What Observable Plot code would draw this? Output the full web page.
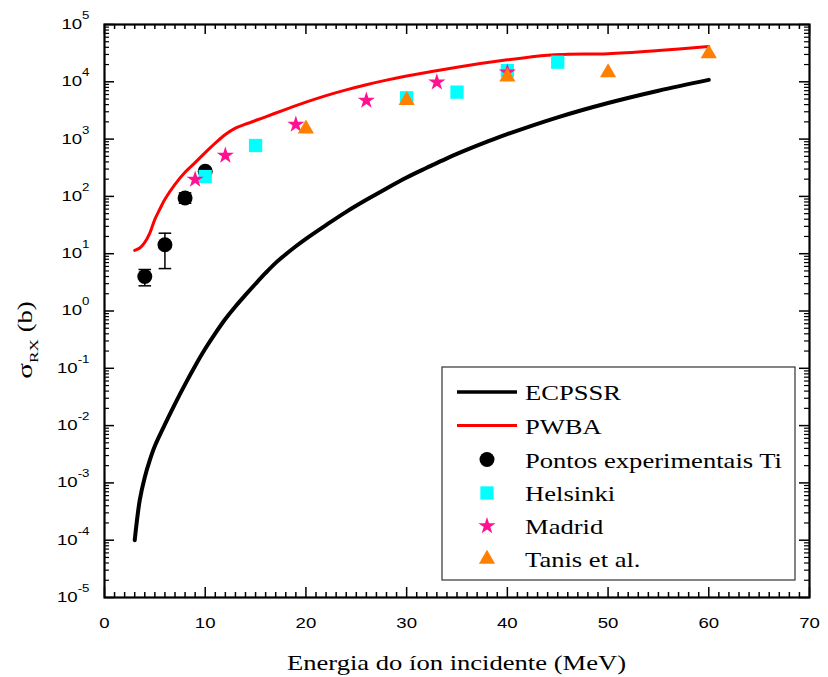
<!DOCTYPE html>
<html>
<head>
<meta charset="utf-8">
<script src="https://cdn.jsdelivr.net/npm/d3@7"></script>
<script src="https://cdn.jsdelivr.net/npm/@observablehq/plot@0.6"></script>
<style>
  html, body { margin: 0; padding: 0; background: #fff; }
  #chart { width: 828px; height: 677px; }
</style>
</head>
<body>
<div id="chart"></div>
<script>
// Ti K X-ray production cross sections (barn) versus incident ion energy (MeV)

// ECPSSR theory curve
const energyECPSSR = [3, 3.5, 4, 4.5, 5, 6, 7, 8, 9, 10, 11, 12, 13, 14, 15, 16, 17, 18, 19, 20, 22, 24, 26, 28, 30, 32, 34, 36, 38, 40, 45, 50, 55, 60];
const sigmaECPSSR = [1.0e-4, 5.0e-4, 1.26e-3, 2.5e-3, 4.4e-3, 0.0105, 0.024, 0.0525, 0.11, 0.219, 0.407, 0.724, 1.20, 1.91, 2.99, 4.62, 6.92, 9.77, 13.5, 18.2, 31.6, 53.7, 87.1, 138, 214, 316, 462, 653, 902, 1220, 2400, 4270, 7000, 10800];

// PWBA theory curve
const energyPWBA = [3, 3.5, 4, 4.5, 5, 5.5, 6, 7, 8, 9, 10, 11, 12, 13, 14, 16, 18, 20, 22, 24, 26, 28, 30, 35, 40, 44, 46, 50, 55, 60];
const sigmaPWBA = [11.4, 12.6, 15.8, 22.9, 39.8, 60.3, 89.1, 162, 263, 389, 582, 851, 1200, 1550, 1820, 2450, 3310, 4420, 5750, 7240, 8910, 10700, 12600, 18000, 24200, 29200, 30200, 30900, 35100, 41300];

// This work (Ti), with error bars
const energyTi = [4, 6, 8, 10];
const sigmaTi = [4.0, 14.3, 94, 275];
const sigmaTiLow = [2.75, 5.5, 76, 245];
const sigmaTiHigh = [5.3, 22.8, 115, 305];

// Helsinki
const energyHelsinki = [10, 15, 30, 35, 40, 45];
const sigmaHelsinki = [222, 773, 5250, 6600, 15700, 22000];

// Madrid
const energyMadrid = [9, 12, 19, 26, 33, 40];
const sigmaMadrid = [197, 517, 1800, 4720, 9850, 14700];

// Tanis et al.
const energyTanis = [20, 30, 40, 50, 60];
const sigmaTanis = [1510, 4750, 12200, 14500, 31000];

// Axis ticks
const xTicks = [0, 10, 20, 30, 40, 50, 60, 70];
const xMinorTicks = d3.range(0, 71).filter(v => v % 10 !== 0);
const yExponents = [-5, -4, -3, -2, -1, 0, 1, 2, 3, 4, 5];
const yTicks = yExponents.map(e => Math.pow(10, e));
const yMinorTicks = yExponents.slice(0, -1).flatMap(e => d3.range(2, 10).map(m => m * Math.pow(10, e)));

const seriesNames = ["ECPSSR", "PWBA", "Pontos experimentais Ti", "Helsinki", "Madrid", "Tanis et al."];

const rows = (xs, ys) => xs.map((x, i) => ({x, y: ys[i]}));
const ecpssr = rows(energyECPSSR, sigmaECPSSR);
const pwba = rows(energyPWBA, sigmaPWBA);
const ti = energyTi.map((x, i) => ({x, y: sigmaTi[i], lo: sigmaTiLow[i], hi: sigmaTiHigh[i]}));
const helsinki = rows(energyHelsinki, sigmaHelsinki);
const madrid = rows(energyMadrid, sigmaMadrid);
const tanis = rows(energyTanis, sigmaTanis);

const W = 828, H = 677;
const mL = 104, mR = 19, mT = 24, mB = 80;
const frameW = W - mL - mR, frameH = H - mT - mB;
const majorLen = 10, minorLen = 5;

const colors = {ecpssr: "#000000", pwba: "#ff0000", ti: "#000000", helsinki: "#00ffff", madrid: "#ff1190", tanis: "#ff8000"};
const sizes = {circle: 7.5, square: 7.5, star: 5.4, triangle: 6.0};

// horizontal cap for error bars
const capSymbol = {draw(ctx) { ctx.moveTo(-6.3, 0); ctx.lineTo(6.3, 0); }};

const plot = Plot.plot({
  width: W,
  height: H,
  marginLeft: mL,
  marginRight: mR,
  marginTop: mT,
  marginBottom: mB,
  style: {background: "white", fontFamily: "'Liberation Sans', Arial, sans-serif", fontSize: "14px", color: "black", overflow: "visible"},
  x: {domain: [0, 70], label: null},
  y: {type: "log", domain: [1e-5, 1e5], label: null},
  marks: [
    // inward ticks on all four sides
    Plot.tickX(xTicks, {x: d => d, insetTop: frameH - majorLen, stroke: "black", strokeWidth: 1.5}),
    Plot.tickX(xTicks, {x: d => d, insetBottom: frameH - majorLen, stroke: "black", strokeWidth: 1.5}),
    Plot.tickX(xMinorTicks, {x: d => d, insetTop: frameH - minorLen, stroke: "black", strokeWidth: 1.5}),
    Plot.tickX(xMinorTicks, {x: d => d, insetBottom: frameH - minorLen, stroke: "black", strokeWidth: 1.5}),
    Plot.tickY(yTicks, {y: d => d, insetRight: frameW - majorLen, stroke: "black", strokeWidth: 1.5}),
    Plot.tickY(yTicks, {y: d => d, insetLeft: frameW - majorLen, stroke: "black", strokeWidth: 1.5}),
    Plot.tickY(yMinorTicks, {y: d => d, insetRight: frameW - minorLen, stroke: "black", strokeWidth: 1.2}),
    Plot.tickY(yMinorTicks, {y: d => d, insetLeft: frameW - minorLen, stroke: "black", strokeWidth: 1.2}),
    Plot.frame({stroke: "black", strokeWidth: 2.2}),
    Plot.axisX({ticks: xTicks, tickSize: 0, tickPadding: 21, tickFormat: d => String(d), label: null}),
    Plot.axisY({ticks: yTicks, tickSize: 0, tickPadding: 15, tickFormat: d => "10^" + Math.round(Math.log10(d)), label: null}),

    // theory curves
    Plot.line(ecpssr, {x: "x", y: "y", stroke: colors.ecpssr, strokeWidth: 4, curve: "catmull-rom"}),
    Plot.line(pwba, {x: "x", y: "y", stroke: colors.pwba, strokeWidth: 3, curve: "catmull-rom"}),

    // this work, with error bars
    Plot.ruleX(ti, {x: "x", y1: "lo", y2: "hi", stroke: "black", strokeWidth: 1.5}),
    Plot.dot(ti, {x: "x", y: "lo", symbol: capSymbol, fill: "none", stroke: "black", strokeWidth: 1.5}),
    Plot.dot(ti, {x: "x", y: "hi", symbol: capSymbol, fill: "none", stroke: "black", strokeWidth: 1.5}),
    Plot.dot(ti, {x: "x", y: "y", r: sizes.circle, fill: colors.ti, stroke: null}),

    // other measurements
    Plot.dot(helsinki, {x: "x", y: "y", symbol: "square", r: sizes.square, fill: colors.helsinki, stroke: null}),
    Plot.dot(madrid, {x: "x", y: "y", symbol: "star", r: sizes.star, fill: colors.madrid, stroke: null}),
    Plot.dot(tanis, {x: "x", y: "y", symbol: "triangle", r: sizes.triangle, fill: colors.tanis, stroke: null})
  ]
});

document.getElementById("chart").appendChild(plot);
const svg = d3.select(plot);

// powers of ten with raised exponents
svg.selectAll('g[aria-label="y-axis tick label"] text').each(function() {
  const parts = this.textContent.split("^");
  if (parts.length !== 2) return;
  this.textContent = parts[0];
  d3.select(this).append("tspan").attr("dy", -10).attr("font-size", 10).text(parts[1]);
});

const serif = "'Liberation Serif', 'Times New Roman', serif";

// axis titles
svg.append("text")
  .attr("transform", `translate(${mL + frameW / 2},670)`)
  .attr("text-anchor", "middle")
  .attr("font-family", serif)
  .attr("font-size", 20)
  .attr("fill", "black")
  .text("Energia do íon incidente (MeV)");

const yt = svg.append("text")
  .attr("transform", "translate(32,340) rotate(-90)")
  .attr("text-anchor", "middle")
  .attr("font-family", serif)
  .attr("font-size", 20)
  .attr("fill", "black");
yt.append("tspan").attr("font-size", 22).text("σ");
yt.append("tspan").attr("font-size", 13).attr("dy", 6).text("RX");
yt.append("tspan").attr("dy", -6).text(" (b)");

// legend
const lg = svg.append("g").attr("class", "legend");
lg.append("rect").attr("x", 442).attr("y", 367).attr("width", 353).attr("height", 213)
  .attr("fill", "white").attr("stroke", "#333").attr("stroke-width", 1.2);
const rowY = [392, 425.5, 459.5, 493, 526, 559];
const symX = 487, textX = 525;
lg.append("line").attr("x1", 457).attr("x2", 517).attr("y1", rowY[0]).attr("y2", rowY[0]).attr("stroke", colors.ecpssr).attr("stroke-width", 3.5);
lg.append("line").attr("x1", 457).attr("x2", 517).attr("y1", rowY[1]).attr("y2", rowY[1]).attr("stroke", colors.pwba).attr("stroke-width", 3);
const sym = (type, r) => d3.symbol(type, Math.PI * r * r)();
lg.append("path").attr("transform", `translate(${symX},${rowY[2]})`).attr("d", sym(d3.symbolCircle, sizes.circle)).attr("fill", colors.ti);
lg.append("path").attr("transform", `translate(${symX},${rowY[3]})`).attr("d", sym(d3.symbolSquare, sizes.square)).attr("fill", colors.helsinki);
lg.append("path").attr("transform", `translate(${symX},${rowY[4]})`).attr("d", sym(d3.symbolStar, sizes.star)).attr("fill", colors.madrid);
lg.append("path").attr("transform", `translate(${symX},${rowY[5]})`).attr("d", sym(d3.symbolTriangle, sizes.triangle)).attr("fill", colors.tanis);
seriesNames.forEach((name, i) => {
  lg.append("text").attr("transform", `translate(${textX},${rowY[i] + 8})`)
    .attr("text-anchor", "start")
    .attr("font-family", serif).attr("font-size", 20).attr("fill", "black").text(name);
});

// the lettering is set wide: stretch every label horizontally about its anchor point
function widen(el, s) {
  const xs = el.x && el.x.baseVal, ys = el.y && el.y.baseVal;
  const ax = xs && xs.numberOfItems ? xs.getItem(0).value : 0;
  const ay = ys && ys.numberOfItems ? ys.getItem(0).value : 0;
  const list = el.transform.baseVal;
  const c = list.numberOfItems ? list.consolidate().matrix : null;
  let m = c ? new DOMMatrix([c.a, c.b, c.c, c.d, c.e, c.f]) : new DOMMatrix();
  m = m.translate(ax, ay).scale(s, 1).translate(-ax, -ay);
  el.setAttribute("transform", `matrix(${m.a},${m.b},${m.c},${m.d},${m.e},${m.f})`);
}
svg.selectAll("text").each(function() { widen(this, 1.33); });
</script>
</body>
</html>
